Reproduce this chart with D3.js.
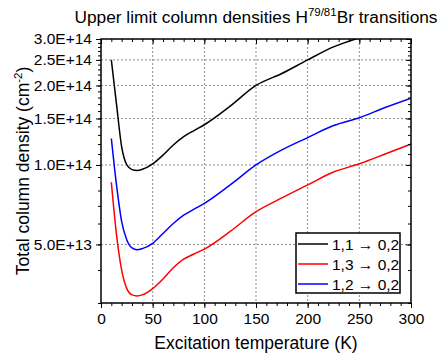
<!DOCTYPE html>
<html>
<head>
<meta charset="utf-8">
<script src="https://d3js.org/d3.v7.min.js"></script>
<style>
  body { margin: 0; background: #fff; }
  svg text { font-family: "Liberation Sans", Arial, sans-serif; fill: #000; }
</style>
</head>
<body>
<div id="viz"></div>
<script>
// excitation temperatures (K)
var temps = [10, 15, 20, 25, 30, 35, 40, 50, 60, 70, 80, 90, 100, 125, 150, 175, 200, 225, 250, 275, 300];

// upper limit column densities, in units of 1E14 cm^-2
var dens11 = [2.5, 1.70, 1.17, 1.0, 0.96, 0.953, 0.963, 1.01, 1.09, 1.19, 1.28, 1.35, 1.42, 1.67, 2.0, 2.22, 2.5, 2.8, 3.03];
var dens13 = [0.86, 0.545, 0.40, 0.34, 0.322, 0.319, 0.322, 0.34, 0.37, 0.408, 0.44, 0.46, 0.48, 0.56, 0.665, 0.75, 0.84, 0.94, 1.01, 1.1, 1.2];
var dens12 = [1.26, 0.84, 0.61, 0.52, 0.485, 0.477, 0.482, 0.505, 0.55, 0.6, 0.645, 0.68, 0.715, 0.84, 1.0, 1.14, 1.27, 1.41, 1.51, 1.65, 1.79];

var seriesNames = ["1,1 \u2192 0,2", "1,3 \u2192 0,2", "1,2 \u2192 0,2"];
var seriesColors = ["#000000", "#ff0000", "#0000ff"];

var xTicks = [0, 50, 100, 150, 200, 250, 300];
var yTicks = [5e13, 1e14, 1.5e14, 2e14, 2.5e14, 3e14];
var yTickLabels = ["5.0E+13", "1.0E+14", "1.5E+14", "2.0E+14", "2.5E+14", "3.0E+14"];

var W = 440, H = 358;
var margin = {top: 39, right: 29, bottom: 55, left: 101};
var width = W - margin.left - margin.right,
    height = H - margin.top - margin.bottom;

var svg = d3.select("#viz").append("svg")
  .attr("width", W).attr("height", H);

var g = svg.append("g")
  .attr("transform", "translate(" + margin.left + "," + margin.top + ")");

var x = d3.scaleLinear().domain([0, 300]).range([0, width]);
var y = d3.scaleLog().domain([3e13, 3e14]).range([height, 0]);

// minor ticks
var xMinor = d3.range(0, 301, 10);
var yMinor = d3.range(3e13, 3.0001e14, 1e13);

// grid
g.append("g").selectAll("line").data(xTicks.slice(1, -1)).enter().append("line")
  .attr("x1", function(d) { return x(d); }).attr("x2", function(d) { return x(d); })
  .attr("y1", 0).attr("y2", height)
  .attr("stroke", "#8c8c8c").attr("stroke-dasharray", "2,2");
g.append("g").selectAll("line").data(yTicks.slice(0, -1)).enter().append("line")
  .attr("y1", function(d) { return y(d); }).attr("y2", function(d) { return y(d); })
  .attr("x1", 0).attr("x2", width)
  .attr("stroke", "#8c8c8c").attr("stroke-dasharray", "2,2");

// curves
g.append("clipPath").attr("id", "clip").append("rect")
  .attr("width", width).attr("height", height);

var line = d3.line()
  .x(function(d) { return x(d[0]); })
  .y(function(d) { return y(d[1] * 1e14); })
  .curve(d3.curveMonotoneX);

[dens11, dens13, dens12].forEach(function(s, i) {
  var pts = s.map(function(v, j) { return [temps[j], v]; });
  g.append("path").datum(pts)
    .attr("clip-path", "url(#clip)")
    .attr("d", line)
    .attr("fill", "none")
    .attr("stroke", seriesColors[i])
    .attr("stroke-width", 1.5);
});

// axes: bottom/left outward, top/right inward
var axB = d3.axisBottom(x).tickValues(xTicks).tickSize(5).tickPadding(5);
var axBm = d3.axisBottom(x).tickValues(xMinor).tickSize(3).tickFormat("");
var axL = d3.axisLeft(y).tickValues(yTicks).tickSize(5).tickPadding(4)
  .tickFormat(function(d, i) { return yTickLabels[i]; });
var axLm = d3.axisLeft(y).tickValues(yMinor).tickSize(3).tickFormat("");
var axT = d3.axisBottom(x).tickValues(xTicks).tickSize(5).tickFormat("");
var axTm = d3.axisBottom(x).tickValues(xMinor).tickSize(3).tickFormat("");
var axR = d3.axisLeft(y).tickValues(yTicks).tickSize(5).tickFormat("");
var axRm = d3.axisLeft(y).tickValues(yMinor).tickSize(3).tickFormat("");

function put(ax, tx, ty) {
  var a = g.append("g").attr("transform", "translate(" + tx + "," + ty + ")").call(ax);
  a.select(".domain").remove();
  a.selectAll("line").attr("stroke", "#000").attr("stroke-width", 1);
  a.selectAll("text").attr("font-size", "15.5px").attr("fill", "#000")
    .attr("font-family", "Liberation Sans, Arial, sans-serif");
  return a;
}
put(axBm, 0, height); put(axB, 0, height);
put(axLm, 0, 0); put(axL, 0, 0);
put(axTm, 0, 0); put(axT, 0, 0);
put(axRm, width, 0); put(axR, width, 0);

// frame
g.append("rect").attr("width", width).attr("height", height)
  .attr("fill", "none").attr("stroke", "#000").attr("stroke-width", 1.5);

// title
var title = svg.append("text")
  .attr("x", margin.left + width / 2).attr("y", 23)
  .attr("text-anchor", "middle").attr("font-size", "17.3px");
title.append("tspan").text("Upper limit column densities H");
title.append("tspan").attr("dy", -7).attr("font-size", "11.5px").text("79/81");
title.append("tspan").attr("dy", 7).text("Br transitions");

// axis titles
svg.append("text")
  .attr("x", margin.left + width / 2).attr("y", H - 9)
  .attr("text-anchor", "middle").attr("font-size", "17.5px")
  .text("Excitation temperature (K)");

var yl = svg.append("text")
  .attr("transform", "translate(29," + (margin.top + height / 2) + ") rotate(-90)")
  .attr("text-anchor", "middle").attr("font-size", "17.5px");
yl.append("tspan").text("Total column density (cm");
yl.append("tspan").attr("dy", -7).attr("font-size", "11.5px").text("-2");
yl.append("tspan").attr("dy", 7).text(")");

// legend
var lg = g.append("g").attr("transform", "translate(" + (width - 115) + "," + (height - 70) + ")");
lg.append("rect").attr("width", 104).attr("height", 60)
  .attr("fill", "#fff").attr("stroke", "#000").attr("stroke-width", 1.5);
seriesNames.forEach(function(n, i) {
  var yy = 11 + i * 20;
  lg.append("line").attr("x1", 2).attr("x2", 32).attr("y1", yy).attr("y2", yy)
    .attr("stroke", seriesColors[i]).attr("stroke-width", 1.5);
  lg.append("text").attr("x", 36).attr("y", yy + 5.5)
    .attr("font-size", "15.5px").text(n);
});
</script>
</body>
</html>
